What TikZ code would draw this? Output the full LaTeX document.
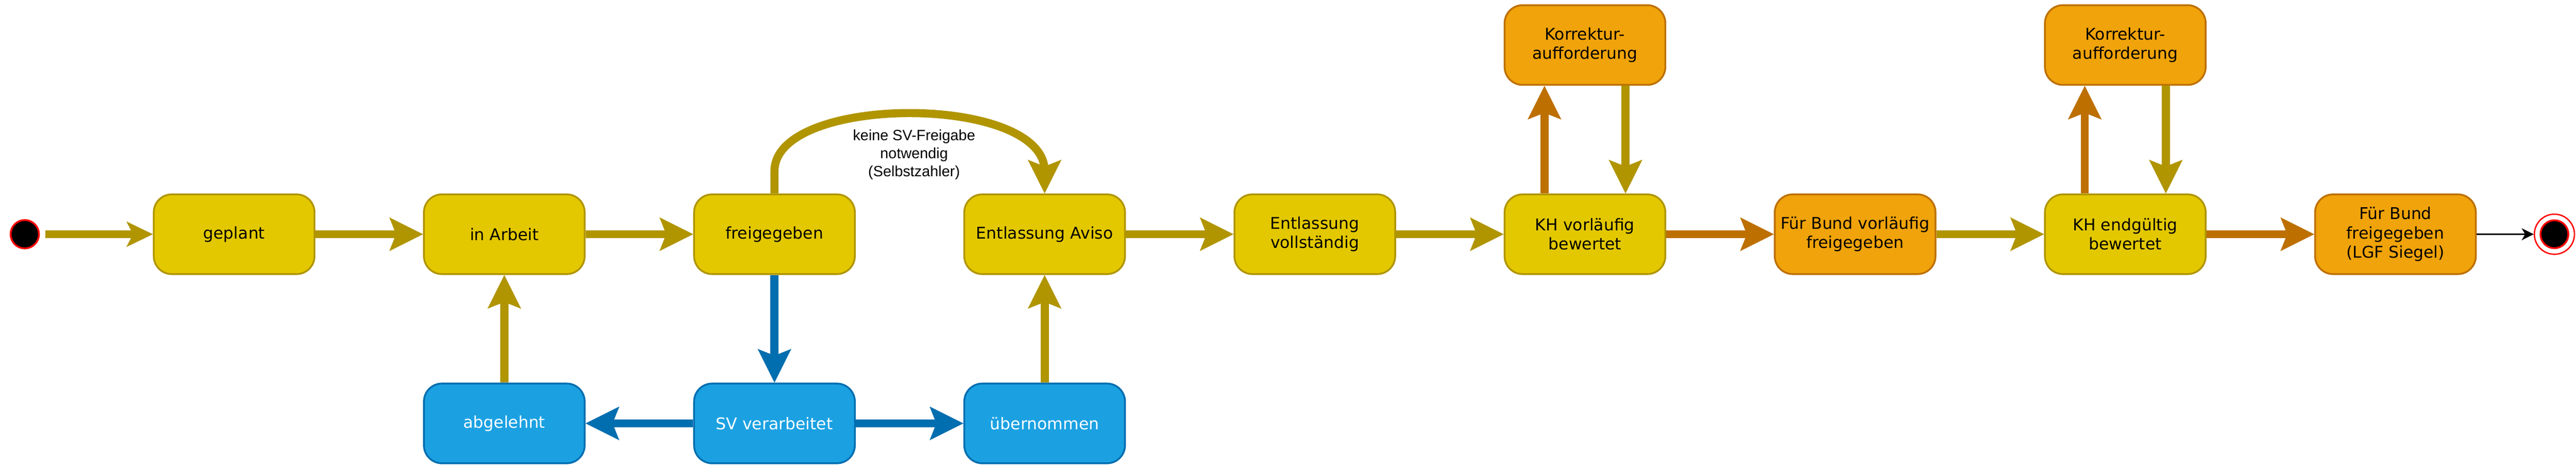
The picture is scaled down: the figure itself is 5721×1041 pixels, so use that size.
\documentclass[tikz,border=0pt]{standalone}
\usepackage{fontspec}
\setmainfont{DejaVu Sans}
\newfontfamily\labfont{Liberation Sans}
\usetikzlibrary{arrows.meta}
\definecolor{yfill}{HTML}{E3C800}
\definecolor{ystroke}{HTML}{B09500}
\definecolor{ofill}{HTML}{F0A30A}
\definecolor{ostroke}{HTML}{BD7000}
\definecolor{bfill}{HTML}{1BA1E2}
\definecolor{bstroke}{HTML}{006EAF}
\begin{document}
\begin{tikzpicture}[x=1pt,y=-1pt,
  state/.style={rectangle, rounded corners=40pt, minimum width=357pt, minimum height=177pt,
    inner sep=0pt, align=center, line width=4pt, font=\fontsize{36}{43}\selectfont},
  ystate/.style={state, fill=yfill, draw=ystroke},
  ostate/.style={state, fill=ofill, draw=ostroke},
  bstate/.style={state, fill=bfill, draw=bstroke, text=white},
  flow/.style={line width=18pt, -{Stealth[length=75pt,width=75pt,inset=15pt,line width=0pt]}},
  yflow/.style={flow, draw=ystroke},
  oflow/.style={flow, draw=ostroke},
  bflow/.style={flow, draw=bstroke},
  lbl/.style={align=center, font=\labfont\fontsize{33}{40}\selectfont}
]
\useasboundingbox (0,0) rectangle (5721,1041);

% nodes
\node[circle, minimum size=63pt, inner sep=0pt, draw=red, line width=4pt, fill=black] (init) at (55,520) {};
\node[ystate] (geplant) at (520,520) {geplant};
\node[ystate] (inarbeit) at (1120,520) {in Arbeit};
\node[ystate] (frei) at (1720,520) {freigegeben};
\node[ystate] (aviso) at (2320,520) {Entlassung Aviso};
\node[ystate] (ev) at (2920,520) {Entlassung\\vollständig};
\node[ystate] (khv) at (3520,520) {KH vorläufig\\bewertet};
\node[ostate] (fbv) at (4120,520) {Für Bund vorläufig\\freigegeben};
\node[ystate] (khe) at (4720,520) {KH endgültig\\bewertet};
\node[ostate] (fbf) at (5320,520) {Für Bund\\freigegeben\\(LGF Siegel)};
\node[ostate] (k1) at (3520,100) {Korrektur-\\aufforderung};
\node[ostate] (k2) at (4720,100) {Korrektur-\\aufforderung};
\node[bstate] (abg) at (1120,940) {abgelehnt};
\node[bstate] (sv) at (1720,940) {SV verarbeitet};
\node[bstate] (ueb) at (2320,940) {übernommen};
\node[circle, minimum size=89pt, inner sep=0pt, draw=red, line width=3pt, fill=white] (end) at (5673,520) {};
\node[circle, minimum size=62pt, inner sep=0pt, draw=red, line width=4pt, fill=black] (endin) at (end.center) {};

% connectors
\draw[yflow, -{Stealth[length=59pt,width=57pt,inset=15pt,line width=0pt]}, shorten <=12pt] (init.east) -- (geplant.west);
\draw[yflow] (geplant.east) -- (inarbeit.west);
\draw[yflow] (inarbeit.east) -- (frei.west);
\draw[bflow] (frei.south) -- (sv.north);
\draw[bflow] (sv.west) -- (abg.east);
\draw[bflow] (sv.east) -- (ueb.west);
\draw[yflow] (abg.north) -- (inarbeit.south);
\draw[yflow] (ueb.north) -- (aviso.south);
\coordinate (c1) at (1720,380);
\coordinate (c2) at (2320,380);
\draw[yflow] (frei.north) -- (c1) .. controls (1720,208) and (2320,208) .. (c2) -- (aviso.north);
\node[lbl] (cond) at (2030,343) {keine SV-Freigabe\\notwendig\\(Selbstzahler)};
\draw[yflow] (aviso.east) -- (ev.west);
\draw[yflow] (ev.east) -- (khv.west);
\draw[oflow] ([xshift=-90pt]khv.north) -- ([xshift=-90pt]k1.south);
\draw[yflow] ([xshift=90pt]k1.south) -- ([xshift=90pt]khv.north);
\draw[oflow] (khv.east) -- (fbv.west);
\draw[yflow] (fbv.east) -- (khe.west);
\draw[oflow] ([xshift=-90pt]khe.north) -- ([xshift=-90pt]k2.south);
\draw[yflow] ([xshift=90pt]k2.south) -- ([xshift=90pt]khe.north);
\draw[oflow] (khe.east) -- (fbf.west);
\draw[line width=3pt, -{Stealth[length=27pt,width=27pt,inset=8pt,line width=0pt]}] (fbf.east) -- (end.west);
\end{tikzpicture}
\end{document}
